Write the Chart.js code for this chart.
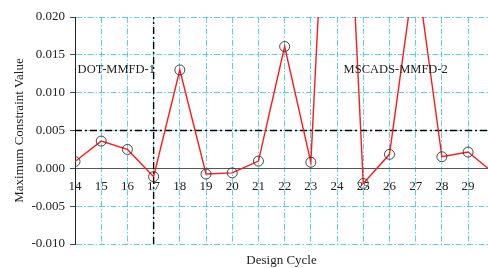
<!DOCTYPE html>
<html>
<head>
<meta charset="utf-8">
<script src="https://cdn.jsdelivr.net/npm/chart.js@4/dist/chart.umd.min.js"></script>
<style>
  html, body { margin: 0; padding: 0; background: #fff; }
  #wrap { width: 488px; height: 268px; }
</style>
</head>
<body>
<div id="wrap"><canvas id="cycle-chart"></canvas></div>
<script>
// design cycles and max constraint values (24, 27 and 30 run off the plot)
const cycles = [14, 15, 16, 17, 18, 19, 20, 21, 22, 23, 24, 25, 26, 27, 28, 29, 30];
const constraintValues = [0.0009, 0.0036, 0.0025, -0.0011, 0.0130, -0.00075, -0.0006, 0.00096, 0.0161, 0.0008,
    0.070, -0.0020, 0.00185, 0.027, 0.00153, 0.00215, -0.0007];

// reference lines
const limitX = [14, 30];
const limitY = [0.005, 0.005];
const switchX = [17, 17];
const switchY = [-0.010, 0.020];

const xTicks = [14, 15, 16, 17, 18, 19, 20, 21, 22, 23, 24, 25, 26, 27, 28, 29];
const yTicks = [-0.010, -0.005, 0.000, 0.005, 0.010, 0.015, 0.020];
const phaseLabels = ['DOT-MMFD-1', 'MSCADS-MMFD-2'];
const phaseLabelAt = [[14.1, 0.013], [24.25, 0.013]];

const FONT = "'Liberation Serif', 'DejaVu Serif', serif";
const GRID_CYAN = 'rgba(40, 195, 235, 0.85)';
const DASH_DOT = [6, 2, 1.5, 2];

const textPlugin = {
    id: 'cycleText',
    afterDraw(chart) {
        const { ctx, scales: { x, y }, chartArea } = chart;
        ctx.save();
        ctx.fillStyle = '#222';
        ctx.font = `12.5px ${FONT}`;
        ctx.textBaseline = 'middle';
        ctx.textAlign = 'left';
        phaseLabels.forEach((t, i) => {
            ctx.fillText(t, x.getPixelForValue(phaseLabelAt[i][0]), y.getPixelForValue(phaseLabelAt[i][1]));
        });
        // bottom axis title
        ctx.textAlign = 'center';
        ctx.font = `13px ${FONT}`;
        ctx.fillText('Design Cycle', (chartArea.left + chartArea.right) / 2, 261);
        ctx.restore();
    }
};

new Chart(document.getElementById('cycle-chart'), {
    type: 'line',
    data: {
        datasets: [
            {
                label: 'Max constraint',
                data: cycles.map((c, i) => ({ x: c, y: constraintValues[i] })),
                borderColor: '#ff1a1a',
                borderWidth: 1.4,
                pointRadius: 5,
                pointBorderColor: '#333',
                pointBorderWidth: 0.9,
                pointBackgroundColor: 'rgba(0,0,0,0)',
                tension: 0,
                order: 0
            },
            {
                label: 'limit',
                data: limitX.map((v, i) => ({ x: v, y: limitY[i] })),
                borderColor: '#000',
                borderWidth: 1.3,
                borderDash: [7, 3, 2, 3],
                pointRadius: 0,
                order: 1
            },
            {
                label: 'switch',
                data: switchX.map((v, i) => ({ x: v, y: switchY[i] })),
                borderColor: '#000',
                borderWidth: 1.4,
                borderDash: [7, 3, 2, 3],
                pointRadius: 0,
                order: 1
            }
        ]
    },
    options: {
        responsive: true,
        maintainAspectRatio: false,
        animation: false,
        layout: { autoPadding: false, padding: { top: 17, right: 0, bottom: 24, left: 0 } },
        plugins: {
            legend: { display: false },
            tooltip: { enabled: false }
        },
        scales: {
            x: {
                type: 'linear',
                position: { y: 0 },
                min: 14,
                max: 29.76,
                afterBuildTicks: scale => { scale.ticks = xTicks.map(v => ({ value: v })); },
                afterFit: scale => { scale.paddingLeft = 0; scale.paddingRight = 0; },
                ticks: {
                    autoSkip: false,
                    maxRotation: 0,
                    color: '#222',
                    padding: 10,
                    font: { family: FONT, size: 13 },
                    callback: v => v
                },
                grid: { color: GRID_CYAN, lineWidth: 0.9, drawTicks: false },
                border: { display: true, color: '#555', width: 1, dash: DASH_DOT }
            },
            y: {
                min: -0.010,
                max: 0.020,
                afterBuildTicks: scale => { scale.ticks = yTicks.map(v => ({ value: v })); },
                afterFit: scale => { scale.width = 75; },
                ticks: {
                    color: '#222',
                    padding: 5,
                    font: { family: FONT, size: 13 },
                    callback: v => v.toFixed(3)
                },
                title: {
                    display: true,
                    text: 'Maximum Constraint Value',
                    color: '#222',
                    font: { family: FONT, size: 13 },
                    padding: { top: 12, bottom: 0 }
                },
                grid: { color: GRID_CYAN, lineWidth: 0.9, drawTicks: true, tickLength: 5, tickColor: '#333' },
                border: { display: true, color: '#222', width: 1, dash: DASH_DOT }
            }
        }
    },
    plugins: [textPlugin]
});
</script>
</body>
</html>
